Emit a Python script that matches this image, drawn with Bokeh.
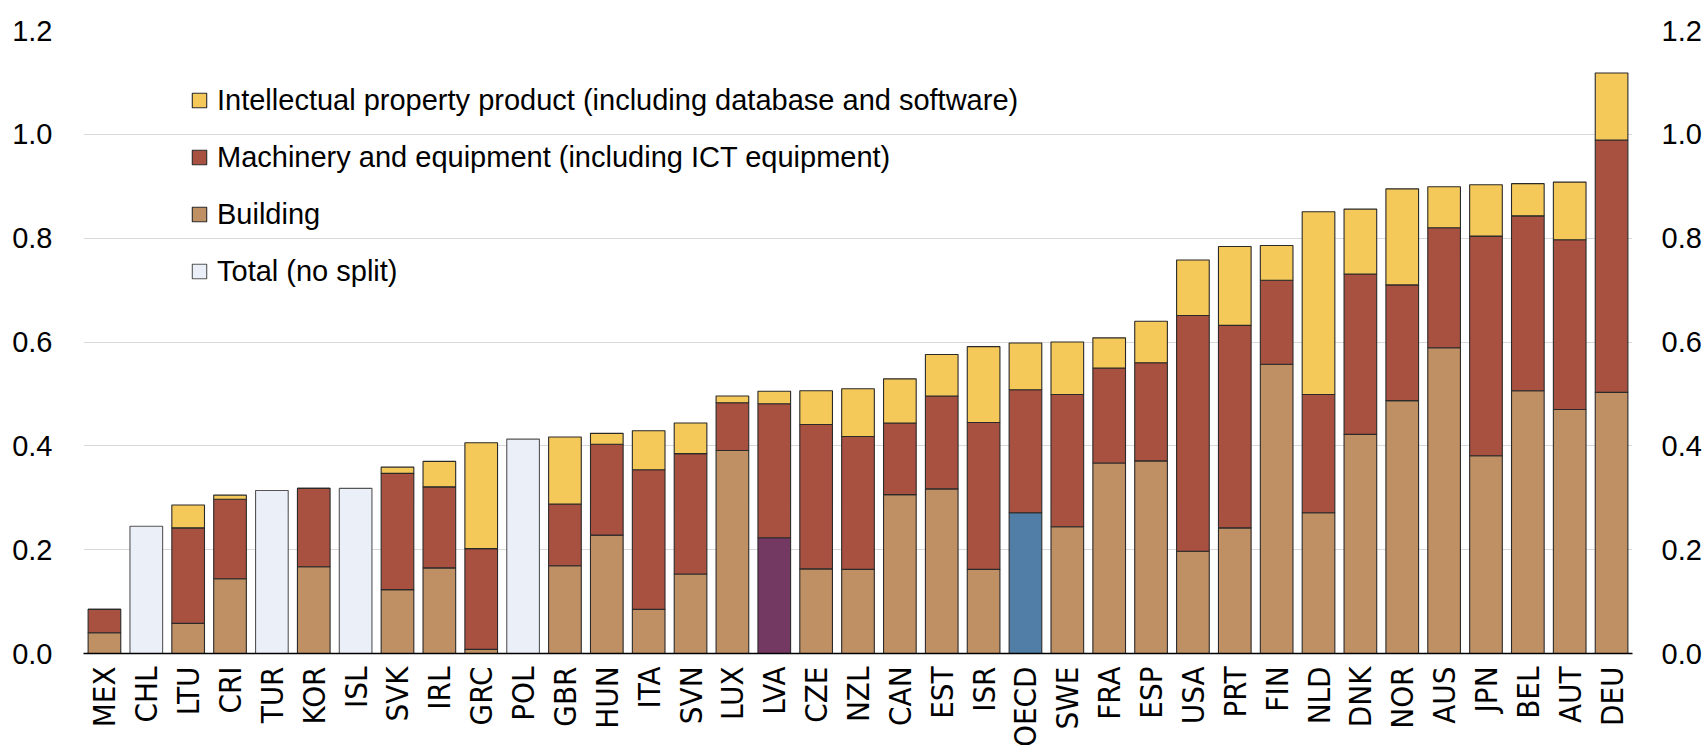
import math
from bokeh.plotting import figure
from bokeh.models import (ColumnDataSource, Range1d, LinearAxis, FixedTicker,
                          PrintfTickFormatter, Legend, LegendItem)
from bokeh.embed import file_html
from bokeh.resources import INLINE

countries = ["MEX", "CHL", "LTU", "CRI", "TUR", "KOR", "ISL", "SVK", "IRL", "GRC",
             "POL", "GBR", "HUN", "ITA", "SVN", "LUX", "LVA", "CZE", "NZL", "CAN",
             "EST", "ISR", "OECD", "SWE", "FRA", "ESP", "USA", "PRT", "FIN", "NLD",
             "DNK", "NOR", "AUS", "JPN", "BEL", "AUT", "DEU"]

building = [0.040, 0.0, 0.058, 0.144, 0.0, 0.167, 0.0, 0.123, 0.165, 0.008,
            0.0, 0.169, 0.228, 0.085, 0.153, 0.391, 0.223, 0.163, 0.162, 0.306,
            0.317, 0.162, 0.271, 0.244, 0.367, 0.371, 0.197, 0.242, 0.557, 0.271,
            0.422, 0.487, 0.589, 0.381, 0.506, 0.470, 0.503]
machinery = [0.045, 0.0, 0.184, 0.153, 0.0, 0.151, 0.0, 0.224, 0.156, 0.194,
             0.0, 0.119, 0.175, 0.269, 0.232, 0.092, 0.258, 0.278, 0.256, 0.138,
             0.179, 0.283, 0.237, 0.255, 0.183, 0.189, 0.454, 0.390, 0.162, 0.228,
             0.309, 0.223, 0.231, 0.423, 0.337, 0.327, 0.486]
ipp = [0.0, 0.0, 0.044, 0.008, 0.0, 0.0, 0.0, 0.012, 0.049, 0.204,
       0.0, 0.129, 0.021, 0.075, 0.059, 0.013, 0.024, 0.065, 0.092, 0.085,
       0.080, 0.146, 0.090, 0.101, 0.058, 0.080, 0.107, 0.152, 0.067, 0.352,
       0.125, 0.185, 0.079, 0.099, 0.062, 0.111, 0.129]
total_no_split = [0.0, 0.245, 0.0, 0.0, 0.314, 0.0, 0.318, 0.0, 0.0, 0.0,
                  0.413, 0.0, 0.0, 0.0, 0.0, 0.0, 0.0, 0.0, 0.0, 0.0,
                  0.0, 0.0, 0.0, 0.0, 0.0, 0.0, 0.0, 0.0, 0.0, 0.0,
                  0.0, 0.0, 0.0, 0.0, 0.0, 0.0, 0.0]
y_ticks = [0.0, 0.2, 0.4, 0.6, 0.8, 1.0, 1.2]

labels = ["Intellectual property product (including database and software)",
          "Machinery and equipment (including ICT equipment)",
          "Building",
          "Total (no split)"]

C_IPP = "#F5C85A"
C_MACH = "#A85140"
C_BUILD = "#BF9064"
C_TOTAL = "#EBEFF8"
highlight = {"LVA": "#743963", "OECD": "#517EA6"}

FONT = "Liberation Sans"
NARROW = "DejaVu Sans Condensed, Liberation Sans, sans-serif"

split_idx = [i for i, t in enumerate(total_no_split) if t == 0]
tot_idx = [i for i, t in enumerate(total_no_split) if t > 0]

b_top = [building[i] for i in split_idx]
m_top = [building[i] + machinery[i] for i in split_idx]
i_top = [building[i] + machinery[i] + ipp[i] for i in split_idx]
src = ColumnDataSource(dict(
    x=[countries[i] for i in split_idx],
    b_top=b_top, m_top=m_top, i_top=i_top,
    zero=[0.0] * len(split_idx),
    bcol=[highlight.get(countries[i], C_BUILD) for i in split_idx],
))
tsrc = ColumnDataSource(dict(
    x=[countries[i] for i in tot_idx],
    top=[total_no_split[i] for i in tot_idx],
))

p = figure(x_range=countries, y_range=Range1d(0, 1.2),
           frame_width=1549, frame_height=623,
           min_border_left=83, min_border_top=30, min_border_right=0, min_border_bottom=0,
           output_backend="svg", toolbar_location=None)
p.outline_line_color = None
p.background_fill_color = "white"

W = 0.78
r_b = p.vbar(x="x", bottom="zero", top="b_top", width=W, source=src,
             fill_color="bcol", line_color="#2a2a2a", line_width=1.1)
r_m = p.vbar(x="x", bottom="b_top", top="m_top", width=W, source=src,
             fill_color=C_MACH, line_color="#2a2a2a", line_width=1.1)
r_i = p.vbar(x="x", bottom="m_top", top="i_top", width=W, source=src,
             fill_color=C_IPP, line_color="#2a2a2a", line_width=1.1)
r_t = p.vbar(x="x", top="top", width=W, source=tsrc,
             fill_color=C_TOTAL, line_color="#555555", line_width=1.1)

# grid
p.xgrid.grid_line_color = None
p.ygrid.ticker = FixedTicker(ticks=y_ticks)
p.ygrid.grid_line_color = "#D9D9D9"
p.ygrid.grid_line_width = 1.2

# y axes
def style_y(ax):
    ax.ticker = FixedTicker(ticks=y_ticks)
    ax.formatter = PrintfTickFormatter(format="%.1f")
    ax.axis_line_color = None
    ax.major_tick_line_color = None
    ax.minor_tick_line_color = None
    ax.major_tick_out = 0
    ax.major_tick_in = 0
    ax.major_label_standoff = 31
    ax.major_label_text_font = FONT
    ax.major_label_text_font_size = "29px"
    ax.major_label_text_color = "black"

style_y(p.yaxis[0])
right = LinearAxis()
style_y(right)
right.major_label_standoff = 29
p.add_layout(right, "right")

# x axis
xa = p.xaxis[0]
xa.axis_line_color = "black"
xa.axis_line_width = 1.5
xa.major_tick_line_color = None
xa.major_tick_out = 0
xa.major_tick_in = 0
xa.major_label_standoff = 13
xa.major_label_orientation = math.pi / 2
xa.major_label_text_font = NARROW
xa.major_label_text_font_size = "31px"
xa.major_label_text_color = "black"

legend = Legend(items=[
    LegendItem(label=labels[0], renderers=[r_i], index=0),
    LegendItem(label=labels[1], renderers=[r_m], index=0),
    LegendItem(label=labels[2], renderers=[r_b], index=0),
    LegendItem(label=labels[3], renderers=[r_t], index=0),
], location=(107, 364))
legend.label_text_font = FONT
legend.label_text_font_size = "29px"
legend.label_text_color = "black"
legend.glyph_width = 18
legend.glyph_height = 18
legend.label_standoff = 9
legend.label_height = 36
legend.spacing = 21
legend.padding = 0
legend.margin = 0
legend.border_line_color = None
legend.background_fill_alpha = 0
p.add_layout(legend)

open("out.html", "w").write(file_html(p, INLINE))
